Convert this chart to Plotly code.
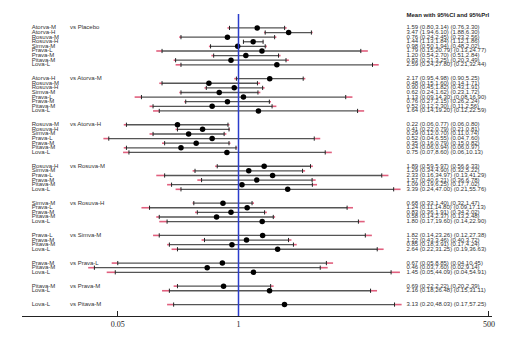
import plotly.graph_objects as go

# ---- data ----
comparators = ["Placebo", "Atorva-M", "Atorva-H", "Rosuva-M", "Rosuva-H",
               "Simva-M", "Prava-L", "Prava-M", "Pitava-M"]
treatments = [
    ["Atorva-M", "Atorva-H", "Rosuva-M", "Rosuva-H", "Simva-M", "Prava-L", "Prava-M", "Pitava-M", "Lova-L"],
    ["Atorva-H", "Rosuva-M", "Rosuva-H", "Simva-M", "Prava-L", "Prava-M", "Pitava-M", "Lova-L"],
    ["Rosuva-M", "Rosuva-H", "Simva-M", "Prava-L", "Prava-M", "Pitava-M", "Lova-L"],
    ["Rosuva-H", "Simva-M", "Prava-L", "Prava-M", "Pitava-M", "Lova-L"],
    ["Simva-M", "Prava-L", "Prava-M", "Pitava-M", "Lova-L"],
    ["Prava-L", "Prava-M", "Pitava-M", "Lova-L"],
    ["Prava-M", "Pitava-M", "Lova-L"],
    ["Pitava-M", "Lova-L"],
    ["Lova-L"],
]
mean = [1.59, 3.47, 0.76, 1.44, 0.98, 1.79, 1.20, 0.83, 2.59,
        2.17, 0.48, 0.90, 0.62, 1.13, 0.76, 0.52, 1.64,
        0.22, 0.41, 0.29, 0.52, 0.35, 0.24, 0.75,
        1.89, 1.29, 2.33, 1.57, 1.09, 3.39,
        0.68, 1.24, 0.83, 0.58, 1.80,
        1.82, 1.22, 0.85, 2.64,
        0.67, 0.46, 1.45,
        0.69, 2.16,
        3.13]
ci_lo = [0.80, 1.94, 0.24, 1.13, 0.50, 0.15, 0.54, 0.21, 0.24,
         0.95, 0.15, 0.45, 0.24, 0.09, 0.27, 0.12, 0.14,
         0.062, 0.22, 0.12, 0.04, 0.16, 0.062, 0.066,
         0.59, 0.34, 0.16, 0.40, 0.19, 0.24,
         0.33, 0.11, 0.36, 0.14, 0.17,
         0.14, 0.43, 0.18, 0.22,
         0.05, 0.028, 0.047,
         0.22, 0.18,
         0.20]
ci_hi = [3.14, 6.10, 2.45, 1.84, 1.94, 20.79, 2.70, 3.25, 27.80,
         4.98, 1.60, 1.82, 1.62, 14.30, 2.15, 2.30, 19.20,
         0.77, 0.79, 0.70, 6.55, 0.79, 0.94, 8.60,
         5.97, 4.90, 34.97, 6.21, 6.25, 47.00,
         1.40, 14.80, 1.91, 2.37, 19.60,
         23.26, 3.46, 3.91, 31.25,
         8.85, 7.60, 44.09,
         2.22, 26.48,
         48.03]
pri_lo = [0.76, 1.88, 0.23, 1.12, 0.48, 0.13, 0.51, 0.20, 0.21,
          0.90, 0.14, 0.43, 0.23, 0.076, 0.26, 0.11, 0.12,
          0.058, 0.21, 0.11, 0.035, 0.15, 0.058, 0.057,
          0.56, 0.32, 0.13, 0.36, 0.17, 0.21,
          0.32, 0.09, 0.34, 0.13, 0.14,
          0.12, 0.40, 0.17, 0.19,
          0.043, 0.024, 0.038,
          0.20, 0.15,
          0.17]
pri_hi = [3.30, 6.30, 2.56, 1.86, 2.02, 24.77, 2.84, 3.49, 32.44,
          5.25, 1.71, 1.91, 1.72, 16.90, 2.24, 2.56, 22.59,
          0.80, 0.81, 0.74, 7.60, 0.82, 0.97, 10.13,
          6.33, 5.22, 41.29, 6.78, 7.02, 55.76,
          1.47, 17.13, 2.02, 2.48, 22.90,
          27.38, 3.72, 4.24, 36.63,
          10.45, 9.14, 54.91,
          2.39, 31.11,
          57.25]
tick_vals = [0.05, 1, 500]
tick_text = ["0.05", "1", "500"]

# ---- row positions (two blank rows between groups) ----
ypos, labels, vs_y, vs_txt = [], [], [], []
r = 0
for g, (comp, trts) in enumerate(zip(comparators, treatments)):
    vs_y.append(r)
    vs_txt.append("vs " + comp)
    for t in trts:
        ypos.append(r)
        labels.append(t)
        r += 1
    r += 2

def fmt(v):
    return f"{v:.2f}"

right_txt = [f"{fmt(m)} ({fmt(a)},{fmt(b)}) ({fmt(c)},{fmt(d)})"
             for m, a, b, c, d in zip(mean, ci_lo, ci_hi, pri_lo, pri_hi)]

fig = go.Figure()

# prediction interval extensions (pink), outside the CI only
px_, py_ = [], []
for plo, clo, chi, phi, y in zip(pri_lo, ci_lo, ci_hi, pri_hi, ypos):
    px_ += [plo, clo, None, chi, phi, None]
    py_ += [y, y, None, y, y, None]
fig.add_trace(go.Scatter(x=px_, y=py_, mode="lines",
                         line=dict(color="#e0607e", width=1.6),
                         hoverinfo="skip", showlegend=False))
# confidence interval (gray-black)
cx_, cy_ = [], []
for lo, hi, y in zip(ci_lo, ci_hi, ypos):
    cx_ += [lo, hi, None]
    cy_ += [y, y, None]
fig.add_trace(go.Scatter(x=cx_, y=cy_, mode="lines",
                         line=dict(color="#555555", width=1.3),
                         hoverinfo="skip", showlegend=False))
# caps
fig.add_trace(go.Scatter(x=ci_lo + ci_hi, y=ypos + ypos, mode="markers",
                         marker=dict(symbol="line-ns", size=3,
                                     line=dict(color="#222222", width=1)),
                         hoverinfo="skip", showlegend=False))
# means
fig.add_trace(go.Scatter(x=mean, y=ypos, mode="markers",
                         marker=dict(symbol="circle", size=5.5, color="black"),
                         showlegend=False))

txtfont = dict(family="Liberation Sans, Arial", size=6, color="#333333")
x_label = 10 ** ((31.7 - 238.5) / 92.8)
x_vs = 10 ** ((70 - 238.5) / 92.8)
x_right = 10 ** ((406.5 - 238.5) / 92.8)
x_head = 10 ** ((18 - 238.5) / 92.8)

fig.add_trace(go.Scatter(x=[x_label] * len(labels), y=ypos, text=labels,
                         mode="text", textposition="middle right",
                         textfont=txtfont, cliponaxis=False,
                         hoverinfo="skip", showlegend=False))
fig.add_trace(go.Scatter(x=[x_vs] * len(vs_txt), y=vs_y, text=vs_txt,
                         mode="text", textposition="middle right",
                         textfont=txtfont, cliponaxis=False,
                         hoverinfo="skip", showlegend=False))
fig.add_trace(go.Scatter(x=[x_right] * len(right_txt), y=ypos, text=right_txt,
                         mode="text", textposition="middle right",
                         textfont=txtfont, cliponaxis=False,
                         hoverinfo="skip", showlegend=False))
fig.add_trace(go.Scatter(x=[x_head, x_right], y=[-2.35, -2.65],
                         text=["<b>Treatment Effect</b>", "<b>Mean with 95%CI and 95%PrI</b>"],
                         mode="text", textposition="middle right",
                         textfont=dict(family="Liberation Sans, Arial", size=6, color="#222222"),
                         cliponaxis=False, hoverinfo="skip", showlegend=False))

# reference line at 1
fig.add_shape(type="line", x0=1, x1=1, xref="x", y0=0, y1=1, yref="paper",
              line=dict(color="#2b3ccc", width=1.5))

fig.update_layout(
    width=519, height=341,
    margin=dict(l=22, r=27, t=14, b=17),
    paper_bgcolor="white", plot_bgcolor="white",
    xaxis=dict(type="log", range=[(22 - 238.5) / 92.8, (492 - 238.5) / 92.8],
               tickvals=tick_vals, ticktext=tick_text,
               ticks="inside", ticklen=5, tickcolor="#222222", tickwidth=1,
               showline=True, linecolor="#222222", linewidth=1,
               showgrid=False, zeroline=False,
               tickfont=dict(family="Liberation Serif, Times New Roman", size=8, color="#222222")),
    yaxis=dict(range=[(324 - 28.3) / 4.733, (14 - 28.3) / 4.733],
               visible=False, showgrid=False, zeroline=False),
)

fig.write_html("out.html")
